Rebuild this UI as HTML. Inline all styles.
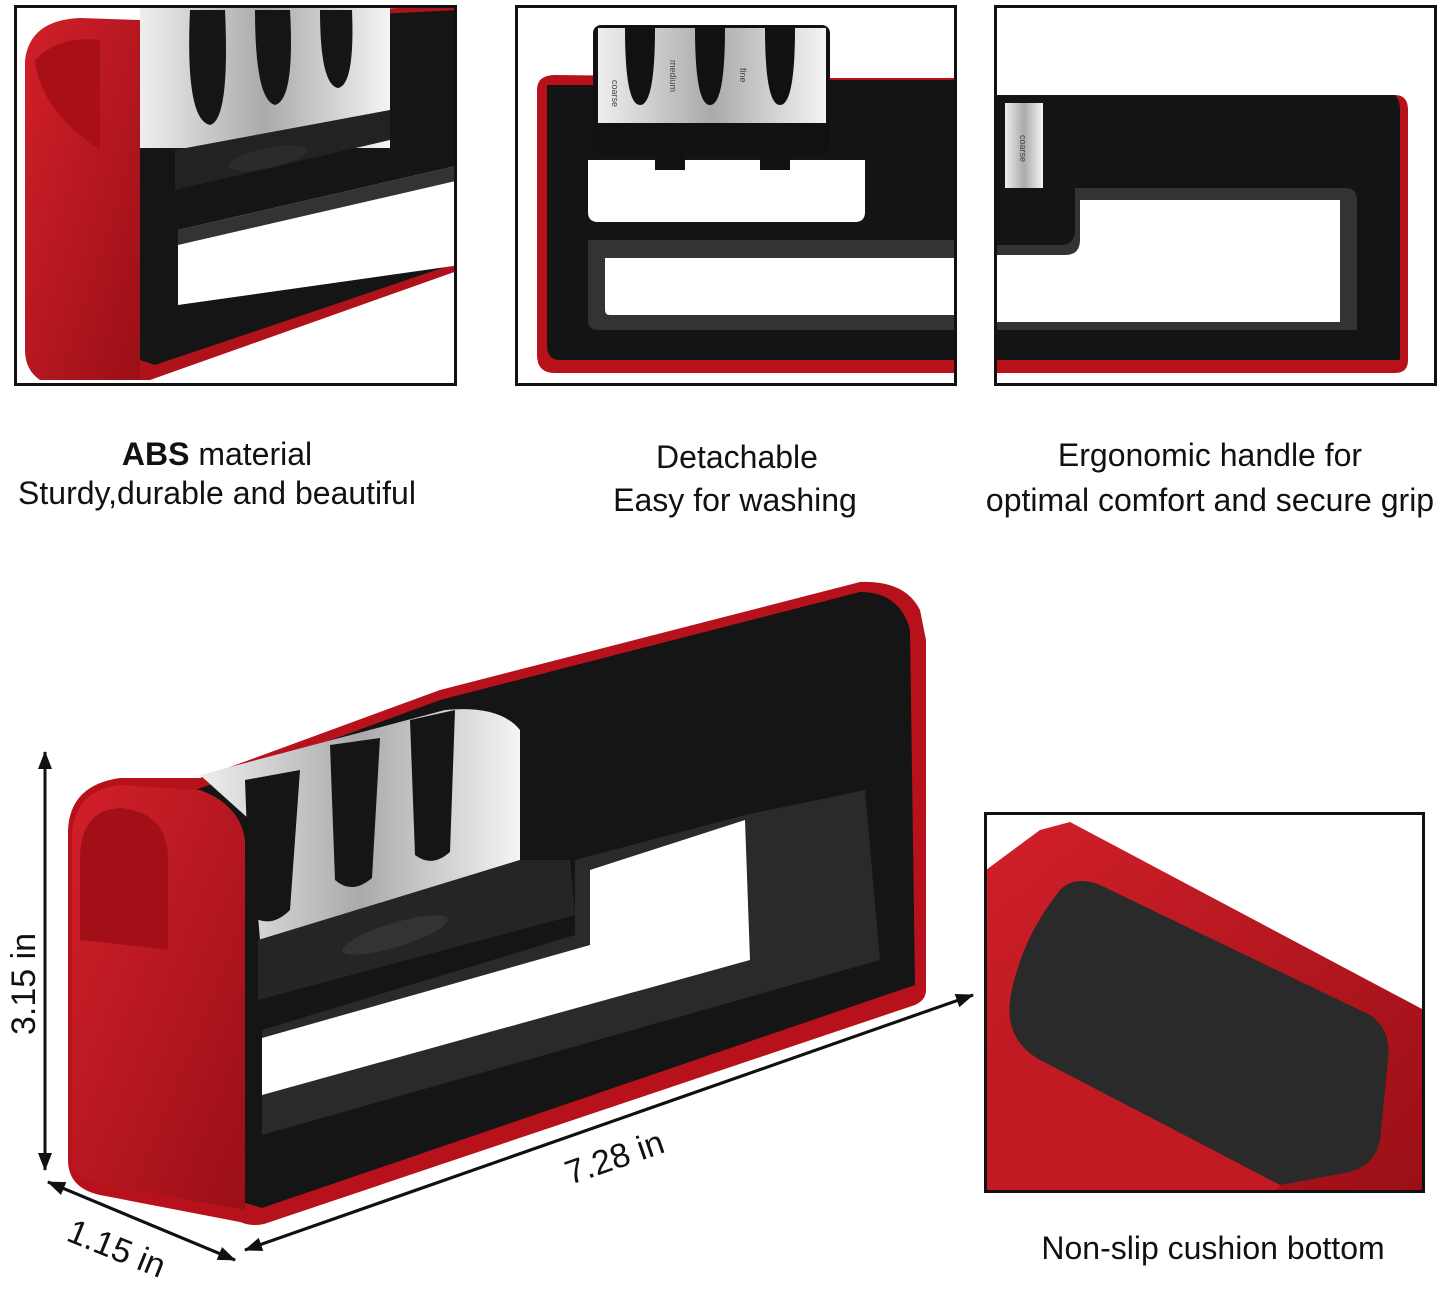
<!DOCTYPE html>
<html><head><meta charset="utf-8">
<style>
html,body{margin:0;padding:0;background:#fff;}
body{width:1445px;height:1289px;position:relative;overflow:hidden;font-family:"Liberation Sans",sans-serif;}
.t{position:absolute;font-size:32px;color:#111;text-align:center;white-space:nowrap;transform:translateX(-50%);}
</style></head><body>
<svg width="1445" height="1289" style="position:absolute;left:0;top:0">
<defs>
<linearGradient id="st" x1="0" y1="0" x2="1" y2="0">
<stop offset="0" stop-color="#eee"/><stop offset=".5" stop-color="#aaa"/><stop offset="1" stop-color="#f4f4f4"/></linearGradient>
<linearGradient id="rd" x1="0" y1="0" x2="1" y2="1">
<stop offset="0" stop-color="#d2202a"/><stop offset="1" stop-color="#9a0f16"/></linearGradient>
<marker id="ah" markerWidth="18" markerHeight="14" refX="17" refY="7" orient="auto" markerUnits="userSpaceOnUse">
<path d="M0,0 L18,7 L0,14 z" fill="#111"/></marker>
<clipPath id="c1"><rect x="16" y="7" width="438" height="376"/></clipPath>
<clipPath id="c2"><rect x="518" y="7" width="437" height="376"/></clipPath>
<clipPath id="c3"><rect x="997" y="7" width="438" height="376"/></clipPath>
<clipPath id="c4"><rect x="986" y="814" width="436" height="376"/></clipPath>
</defs>

<!-- Panel 1 -->
<g clip-path="url(#c1)">
<path d="M25,60 Q30,20 80,18 L140,20 L140,380 L40,380 Q25,370 25,350Z" fill="url(#rd)"/>
<path d="M140,20 L460,5 L460,270 L150,380 L140,380Z" fill="#b0121b"/>
<path d="M140,25 L460,10 L460,262 L155,365 L140,360Z" fill="#151515"/>
<rect x="140" y="8" width="250" height="140" fill="url(#st)"/>
<path d="M190,10 Q185,120 210,125 Q230,120 225,10Z" fill="#151515"/>
<path d="M255,10 Q255,100 275,105 Q295,100 290,10Z" fill="#151515"/>
<path d="M320,10 Q320,85 338,88 Q355,85 352,10Z" fill="#151515"/>
<path d="M175,150 L390,110 L390,140 L175,190Z" fill="#222"/>
<ellipse cx="268" cy="158" rx="40" ry="10" fill="#2b2b2b" transform="rotate(-12 268 158)"/>
<path d="M178,230 L460,165 L460,265 L178,305Z" fill="#fff"/>
<path d="M178,230 L460,165 L460,180 L178,245Z" fill="#333"/>
<path d="M35,60 Q40,110 100,150 L100,40 Q60,35 35,60Z" fill="#a80f17"/>
</g>
<rect x="15.5" y="6.5" width="440" height="378" fill="none" stroke="#111" stroke-width="3"/>

<!-- Panel 2 -->
<g clip-path="url(#c2)">
<path d="M537,90 Q537,75 555,75 L830,78 L960,78 L960,373 L555,373 Q537,373 537,355Z" fill="#b8111a"/>
<path d="M547,85 L960,85 L960,360 L560,360 Q547,360 547,345Z" fill="#141414"/>
<path d="M830,80 L960,80 L960,180 L875,180 Q870,180 870,190 L870,222 L830,222Z" fill="#141414"/>
<path d="M588,160 L865,160 L865,212 Q865,222 855,222 L598,222 Q588,222 588,212Z" fill="#fff"/>
<path d="M588,240 L960,240 L960,330 L598,330 Q588,330 588,320Z" fill="#333"/>
<path d="M605,258 L960,258 L960,315 L610,315 Q605,315 605,310Z" fill="#fff"/>
<rect x="593" y="25" width="237" height="130" rx="8" fill="#111"/>
<rect x="598" y="28" width="228" height="95" fill="url(#st)"/>
<path d="M625,28 Q625,105 640,105 Q655,105 655,28Z" fill="#111"/>
<path d="M695,28 Q695,105 710,105 Q725,105 725,28Z" fill="#111"/>
<path d="M765,28 Q765,105 780,105 Q795,105 795,28Z" fill="#111"/>
<rect x="655" y="155" width="30" height="15" fill="#111"/><rect x="760" y="155" width="30" height="15" fill="#111"/>
<text x="612" y="80" font-size="9" fill="#444" transform="rotate(90 612 80)">coarse</text>
<text x="670" y="60" font-size="9" fill="#444" transform="rotate(90 670 60)">medium</text>
<text x="740" y="68" font-size="9" fill="#444" transform="rotate(90 740 68)">fine</text>
</g>
<rect x="516.5" y="6.5" width="439" height="378" fill="none" stroke="#111" stroke-width="3"/>

<!-- Panel 3 -->
<g clip-path="url(#c3)">
<path d="M997,95 L1395,95 Q1408,95 1408,110 L1408,360 Q1408,373 1395,373 L997,373Z" fill="#b8111a"/>
<path d="M997,95 L1395,95 Q1400,100 1400,110 L1400,360 L997,360Z" fill="#141414"/>
<path d="M1075,188 L1345,188 Q1357,188 1357,200 L1357,330 L997,330 L997,245 L1060,245 Q1075,245 1075,230Z" fill="#333"/>
<path d="M1080,200 L1340,200 L1340,322 L997,322 L997,255 L1065,255 Q1080,255 1080,240Z" fill="#fff"/>
<rect x="1005" y="103" width="38" height="85" fill="url(#st)"/>
<text x="1020" y="135" font-size="9" fill="#444" transform="rotate(90 1020 135)">coarse</text>
</g>
<rect x="995.5" y="6.5" width="440" height="378" fill="none" stroke="#111" stroke-width="3"/>

<!-- Panel 4 -->
<g clip-path="url(#c4)">
<path d="M986,870 L1040,830 L1070,822 L1424,1010 L1424,1192 L986,1192Z" fill="url(#rd)"/>
<path d="M1010,1000 Q1020,940 1060,890 Q1075,875 1100,885 L1370,1015 Q1392,1030 1388,1060 L1380,1140 Q1375,1165 1350,1172 L1280,1185 L1040,1060 Q1005,1040 1010,1000Z" fill="#2a2a2a"/>
<path d="M1000,1040 L1040,1060 L1280,1185 L1275,1192 L986,1192 L986,1060Z" fill="#c11a22"/>
</g>
<rect x="985.5" y="813.5" width="438" height="378" fill="none" stroke="#111" stroke-width="3"/>

<!-- Big sharpener -->
<path d="M68,830 Q70,785 120,778 L200,778 L440,690 L860,582 Q905,580 920,610 L926,640 L926,990 Q926,1000 915,1005 L270,1222 Q255,1228 240,1222 L100,1195 Q68,1188 68,1160Z" fill="#b7121b"/>
<path d="M190,792 L440,700 L860,592 Q900,592 910,630 L915,985 L262,1208 L236,1200 L236,830Z" fill="#151515"/>
<path d="M72,835 Q75,790 120,785 L200,790 Q240,805 245,840 L245,1210 L105,1185 Q72,1180 72,1160Z" fill="url(#rd)"/>
<path d="M80,860 Q80,810 120,808 Q168,812 168,860 L168,950 Q130,945 80,940Z" fill="#a30f17"/>
<path d="M200,775 L445,710 Q500,705 520,730 L520,860 L260,940 L250,820Z" fill="url(#st)"/>
<path d="M245,780 L250,915 Q270,930 290,910 L300,770Z" fill="#151515"/>
<path d="M330,745 L335,880 Q352,895 372,878 L380,738Z" fill="#151515"/>
<path d="M410,720 L415,855 Q432,868 450,852 L455,710Z" fill="#151515"/>
<path d="M258,940 L520,860 L570,860 L575,915 L258,1000Z" fill="#252525"/>
<ellipse cx="395" cy="935" rx="55" ry="12" fill="#333" transform="rotate(-17 395 935)"/>
<path d="M262,1030 L575,935 L575,860 L745,815 L865,790 L880,960 L262,1135Z" fill="#2a2a2a"/>
<path d="M262,1038 L590,945 L590,870 L745,820 L750,960 L262,1095Z" fill="#fff"/>

<!-- dimension arrows -->
<line x1="45" y1="1168" x2="45" y2="752" stroke="#111" stroke-width="3" marker-end="url(#ah)"/>
<line x1="45" y1="755" x2="45" y2="1170" stroke="#111" stroke-width="3" marker-end="url(#ah)"/>
<line x1="245" y1="1250" x2="973" y2="995" stroke="#111" stroke-width="3" marker-end="url(#ah)"/>
<line x1="973" y1="995" x2="245" y2="1250" stroke="#111" stroke-width="3" marker-end="url(#ah)"/>
<line x1="48" y1="1182" x2="235" y2="1260" stroke="#111" stroke-width="3" marker-end="url(#ah)"/>
<line x1="235" y1="1260" x2="48" y2="1182" stroke="#111" stroke-width="3" marker-end="url(#ah)"/>
<text x="35" y="1035" font-size="34" fill="#111" transform="rotate(-90 35 1035)" font-family="Liberation Sans">3.15 in</text>
<text x="570" y="1185" font-size="34" fill="#111" transform="rotate(-19 570 1185)" font-family="Liberation Sans">7.28 in</text>
<text x="65" y="1240" font-size="34" fill="#111" transform="rotate(22 65 1240)" font-family="Liberation Sans">1.15 in</text>
</svg>

<div class="t" style="left:217px;top:436px"><b>ABS</b> material</div>
<div class="t" style="left:217px;top:475px">Sturdy,durable and beautiful</div>
<div class="t" style="left:737px;top:439px">Detachable</div>
<div class="t" style="left:735px;top:482px">Easy for washing</div>
<div class="t" style="left:1210px;top:437px">Ergonomic handle for</div>
<div class="t" style="left:1210px;top:482px">optimal comfort and secure grip</div>
<div class="t" style="left:1213px;top:1230px">Non-slip cushion bottom</div>
</body></html>
